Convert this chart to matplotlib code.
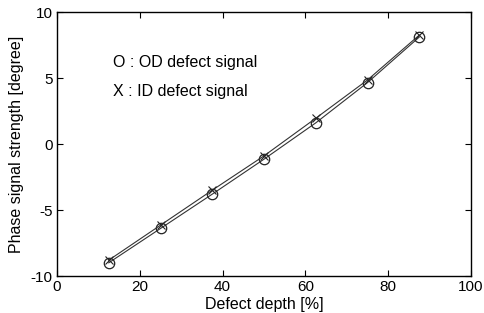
import matplotlib
matplotlib.use("Agg")
import matplotlib.pyplot as plt

depth = [12.5, 25, 37.5, 50, 62.5, 75, 87.5]
od_signal = [-9.0, -6.4, -3.8, -1.15, 1.6, 4.65, 8.1]
id_signal = [-8.8, -6.15, -3.5, -0.9, 1.95, 4.85, 8.25]

xticks = [0, 20, 40, 60, 80, 100]
yticks = [-10, -5, 0, 5, 10]

plt.rcParams['font.family'] = ['Liberation Sans', 'DejaVu Sans']
plt.rcParams['axes.unicode_minus'] = False

fig = plt.figure(figsize=(4.84, 3.13), dpi=100)
ax = fig.add_axes([57/484, 1-276/313, (471-57)/484, (276-12)/313])

ax.plot(depth, od_signal, color='#333333', lw=0.8, marker='o', ms=7.5,
        mfc='none', mec='#222222', mew=0.9)
ax.plot(depth, id_signal, color='#333333', lw=0.8, marker='x', ms=6,
        mec='#222222', mew=0.8)

ax.set_xlim(0, 100)
ax.set_ylim(-10, 10)
ax.set_xticks(xticks)
ax.set_yticks(yticks)
ax.tick_params(direction='in', top=True, right=True, labelsize=11, length=4, pad=3)
for s in ax.spines.values():
    s.set_linewidth(1.0)

ax.set_xlabel('Defect depth [%]', fontsize=11.5, labelpad=2)
ax.set_ylabel('Phase signal strength [degree]', fontsize=11.5, labelpad=5)

ax.text(13.5, 6.2, 'O : OD defect signal', fontsize=11.5, va='center', ha='left')
ax.text(13.5, 4.0, 'X : ID defect signal', fontsize=11.5, va='center', ha='left')

fig.savefig('out.png', dpi=100)
